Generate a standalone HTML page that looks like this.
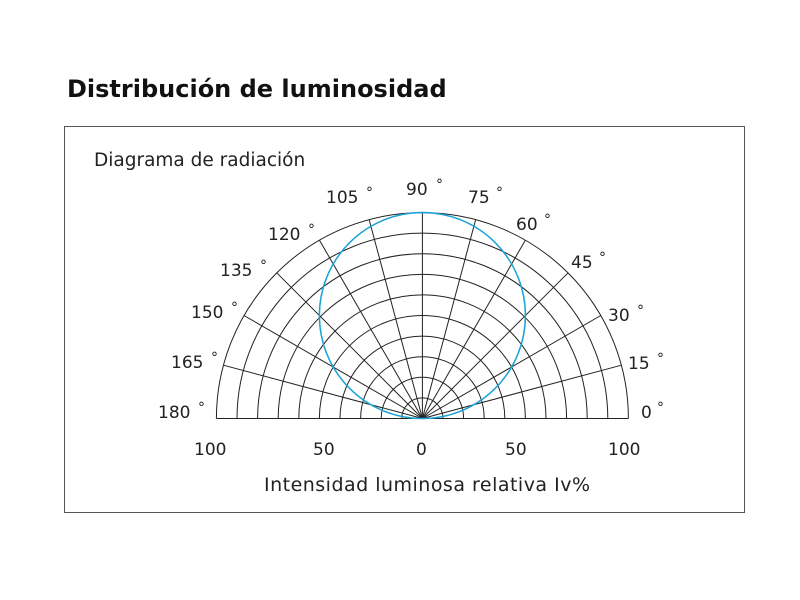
<!DOCTYPE html>
<html><head><style>
body{margin:0;background:#fff;}
svg{display:block;font-family:"DejaVu Sans","Liberation Sans",sans-serif;}
</style></head><body>
<svg width="800" height="600" xmlns="http://www.w3.org/2000/svg">
<text x="67" y="97" font-size="24" font-weight="bold" fill="#111">Distribución de luminosidad</text>
<rect x="64.5" y="126.5" width="680" height="386" fill="none" stroke="#555" stroke-width="1"/>
<text x="94" y="166" font-size="18.5" fill="#222">Diagrama de radiación</text>
<g fill="none" stroke="#222" stroke-width="1">
<path d="M216.4,418.5 A206,206 0 0 1 628.4,418.5"/>
<path d="M237,418.5 A185.4,185.4 0 0 1 607.8,418.5"/>
<path d="M257.6,418.5 A164.8,164.8 0 0 1 587.2,418.5"/>
<path d="M278.2,418.5 A144.2,144.2 0 0 1 566.6,418.5"/>
<path d="M298.8,418.5 A123.6,123.6 0 0 1 546,418.5"/>
<path d="M319.4,418.5 A103,103 0 0 1 525.4,418.5"/>
<path d="M340,418.5 A82.4,82.4 0 0 1 504.8,418.5"/>
<path d="M360.6,418.5 A61.8,61.8 0 0 1 484.2,418.5"/>
<path d="M381.2,418.5 A41.2,41.2 0 0 1 463.6,418.5"/>
<path d="M401.8,418.5 A20.6,20.6 0 0 1 443,418.5"/>
<line x1="216.4" y1="418.5" x2="628.4" y2="418.5"/>
<line x1="422.4" y1="418.5" x2="621.4" y2="365.2"/>
<line x1="422.4" y1="418.5" x2="600.8" y2="315.5"/>
<line x1="422.4" y1="418.5" x2="568.1" y2="272.8"/>
<line x1="422.4" y1="418.5" x2="525.4" y2="240.1"/>
<line x1="422.4" y1="418.5" x2="475.7" y2="219.5"/>
<line x1="422.4" y1="418.5" x2="422.4" y2="212.5"/>
<line x1="422.4" y1="418.5" x2="369.1" y2="219.5"/>
<line x1="422.4" y1="418.5" x2="319.4" y2="240.1"/>
<line x1="422.4" y1="418.5" x2="276.7" y2="272.8"/>
<line x1="422.4" y1="418.5" x2="244" y2="315.5"/>
<line x1="422.4" y1="418.5" x2="223.4" y2="365.2"/>
</g>
<circle cx="422.4" cy="315.5" r="103" fill="none" stroke="#1aa3d6" stroke-width="1.5"/>
<g font-size="17" fill="#222">
<text x="406" y="195">90</text><text x="436" y="189" font-size="14">°</text>
<text x="468" y="203">75</text><text x="496" y="197" font-size="14">°</text>
<text x="516" y="230">60</text><text x="544" y="224" font-size="14">°</text>
<text x="571" y="268">45</text><text x="599" y="262" font-size="14">°</text>
<text x="608" y="321">30</text><text x="637" y="315" font-size="14">°</text>
<text x="628" y="369">15</text><text x="657" y="363" font-size="14">°</text>
<text x="641" y="418">0</text><text x="657" y="412" font-size="14">°</text>
<text x="326" y="203">105</text><text x="366" y="197" font-size="14">°</text>
<text x="268" y="240">120</text><text x="308" y="234" font-size="14">°</text>
<text x="220" y="276">135</text><text x="260" y="270" font-size="14">°</text>
<text x="191" y="318">150</text><text x="231" y="312" font-size="14">°</text>
<text x="171" y="368">165</text><text x="211" y="362" font-size="14">°</text>
<text x="158" y="418">180</text><text x="198" y="412" font-size="14">°</text>
<text x="194" y="455">100</text>
<text x="313" y="455">50</text>
<text x="416" y="455">0</text>
<text x="505" y="455">50</text>
<text x="608" y="455">100</text>
</g>
<text x="264" y="491" font-size="19" textLength="326" fill="#222">Intensidad luminosa relativa Iv%</text>
</svg>
</body></html>
